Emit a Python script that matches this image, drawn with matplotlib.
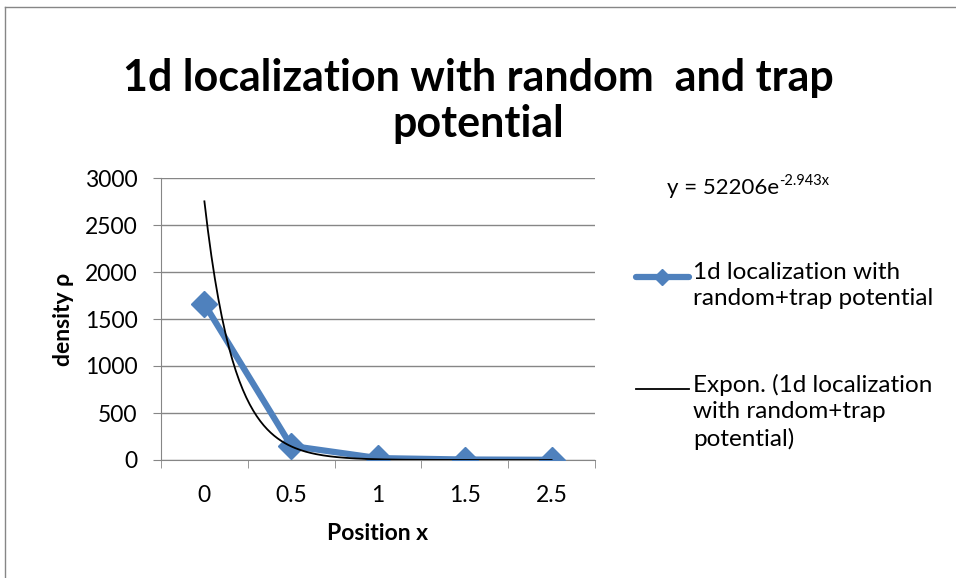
import numpy as np
import matplotlib.pyplot as plt
from matplotlib.lines import Line2D

# ── Data ─────────────────────────────────────────────────────────────────────
CATEGORIES = ["0", "0.5", "1", "1.5", "2.5"]
DENSITY    = [1660, 150, 20, 5, 2]
# Excel exponential trendline (x = 1-based category index)
FIT_A, FIT_B = 52206, -2.943
Y_TICKS = [0, 500, 1000, 1500, 2000, 2500, 3000]

BLUE = "#4F81BD"
GRID = "#868686"
W, H = 956, 578
plt.rcParams["font.family"] = ["Lato", "DejaVu Sans"]

def fx(px): return px / W
def fy(py): return 1 - py / H

fig = plt.figure(figsize=(W / 100, H / 100), dpi=100)
ax = fig.add_axes([fx(161), fy(460), 434 / W, 282 / H])

xs = np.arange(len(CATEGORIES))
ax.plot(xs, DENSITY, "-D", color=BLUE, lw=4.5, ms=13, solid_joinstyle="round", zorder=3)

xf = np.linspace(1, len(CATEGORIES), 200)
ax.plot(xf - 1, FIT_A * np.exp(FIT_B * xf), color="black", lw=1.3, zorder=4)

ax.set_xlim(-0.5, len(CATEGORIES) - 0.5)
ax.set_ylim(0, 3000)
ax.set_yticks(Y_TICKS)
ax.set_yticklabels([str(v) for v in Y_TICKS])
ax.set_xticks(xs)
ax.set_xticklabels(CATEGORIES)
ax.set_xticks(np.arange(-0.5, len(CATEGORIES)), minor=True)
ax.tick_params(axis="x", which="major", length=0, pad=18, labelsize=16.5)
ax.tick_params(axis="x", which="minor", length=6, color=GRID, direction="out")
ax.tick_params(axis="y", length=6, color=GRID, pad=11, labelsize=16.5)
ax.yaxis.grid(True, color=GRID, lw=1)
ax.set_axisbelow(True)
for s in ["top", "right"]:
    ax.spines[s].set_visible(False)
for s in ["left", "bottom"]:
    ax.spines[s].set_color(GRID)

ax.set_xlabel("Position x", fontsize=16.5, fontweight="bold", labelpad=12)
ax.set_ylabel("density ρ", fontsize=16.5, fontweight="bold", labelpad=8)

fig.text(0.5, fy(101), "1d localization with random  and trap\npotential",
         ha="center", va="center", fontsize=31, fontweight="bold", linespacing=1.2)

# trendline equation (hyphen kept as in the original label)
eq = fig.text(fx(667), fy(188), "y = 52206e", ha="left", va="center", fontsize=16)
fig.canvas.draw()
bb = eq.get_window_extent()
fig.text(bb.x1 / W, fy(181), "-2.943x", ha="left", va="center", fontsize=10.5)

# legend drawn by hand so that handles align with the first text line
fig.add_artist(Line2D([fx(636), fx(689)], [fy(277), fy(277)], color=BLUE, lw=4.5,
                      solid_capstyle="round"))
fig.add_artist(Line2D([fx(662)], [fy(277)], color=BLUE, marker="D", ms=8.5, lw=0))
fig.add_artist(Line2D([fx(636), fx(689)], [fy(389), fy(389)], color="black", lw=1.3))
fig.text(fx(693), fy(262), "1d localization with\nrandom+trap potential",
         ha="left", va="top", fontsize=17.5, linespacing=1.3)
fig.text(fx(693), fy(374), "Expon. (1d localization\nwith random+trap\npotential)",
         ha="left", va="top", fontsize=17.5, linespacing=1.3)

# chart border (left/top only, as in the reference)
fig.add_artist(Line2D([fx(5), fx(5)], [0, fy(7)], color=GRID, lw=1))
fig.add_artist(Line2D([fx(5), 1], [fy(7), fy(7)], color=GRID, lw=1))

fig.savefig("out.png", dpi=100)
